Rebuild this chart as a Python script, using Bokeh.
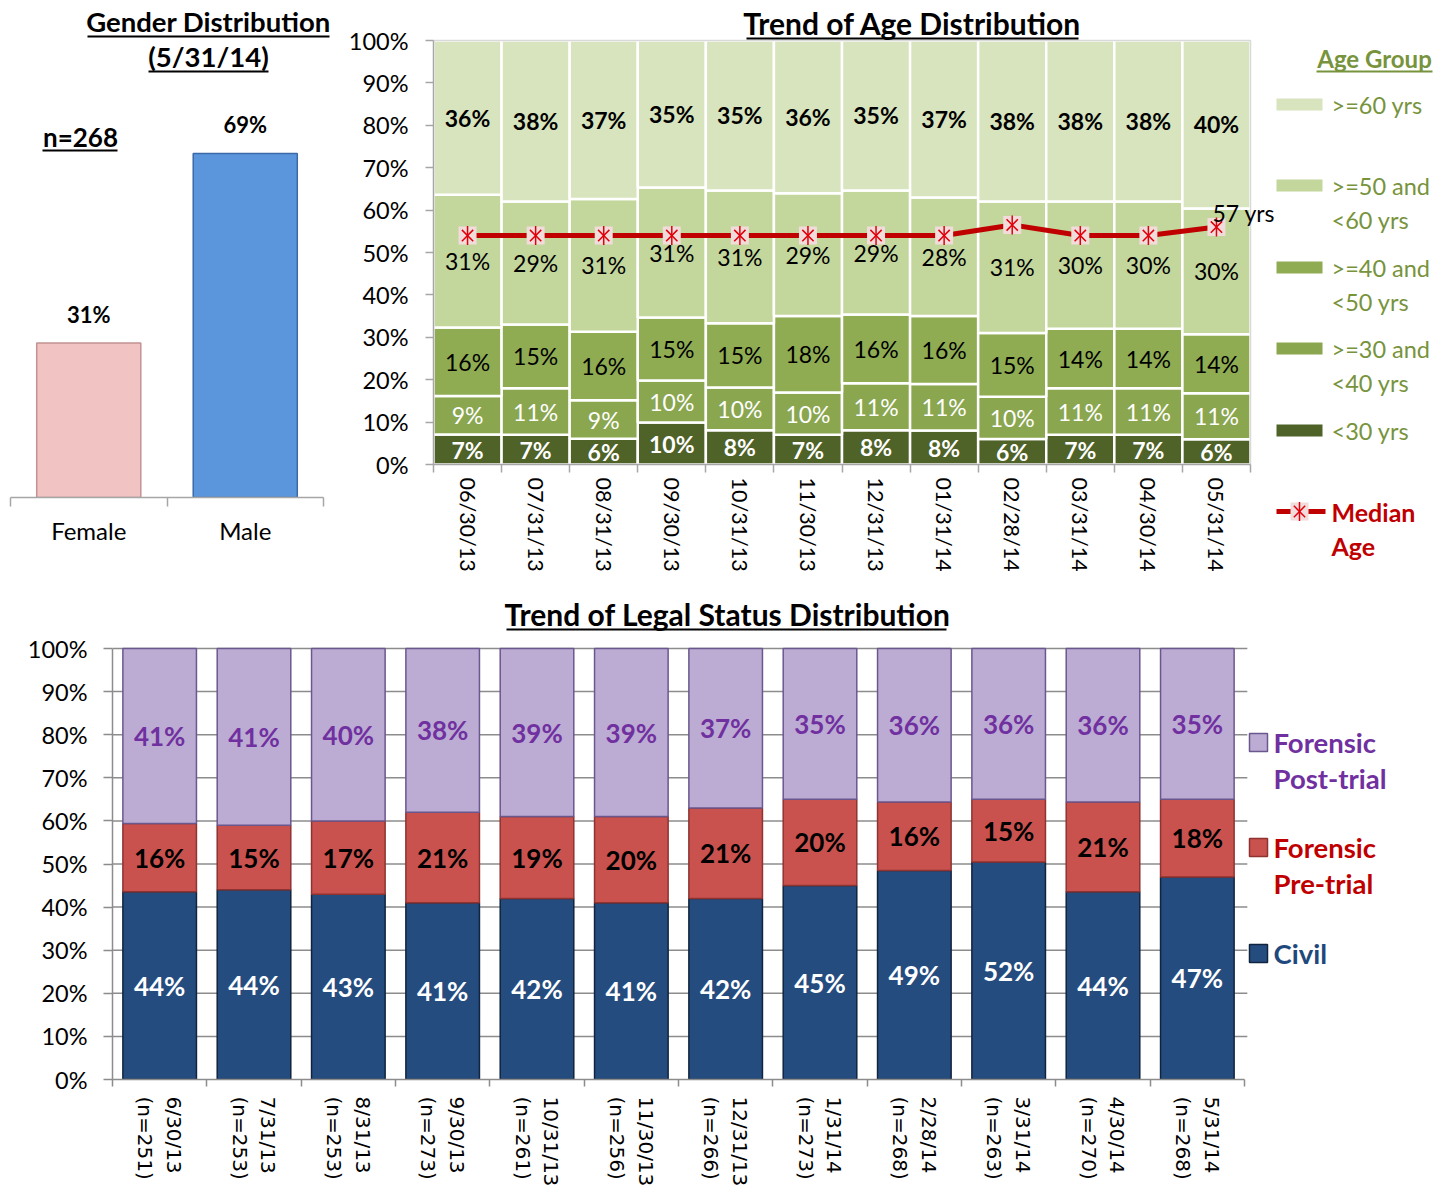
import math
from bokeh.plotting import figure
from bokeh.layouts import column, row
from bokeh.models import Range1d, FixedTicker, Label, Arrow, NumeralTickFormatter
from bokeh.core.properties import value
from bokeh.embed import file_html
from bokeh.resources import INLINE

FONT = "Lato"
XFONT = "DejaVu Sans"

# ---------------- data ----------------
gender_categories = ["Female", "Male"]
gender_pct = [31, 69]
gender_title = ["Gender Distribution", "(5/31/14)"]
gender_n_label = "n=268"

age_dates = ["06/30/13", "07/31/13", "08/31/13", "09/30/13", "10/31/13", "11/30/13",
             "12/31/13", "01/31/14", "02/28/14", "03/31/14", "04/30/14", "05/31/14"]
age_groups = ["<30 yrs", ">=30 and\n<40 yrs", ">=40 and\n<50 yrs", ">=50 and\n<60 yrs", ">=60 yrs"]
age_lt30 = [7, 7, 6, 10, 8, 7, 8, 8, 6, 7, 7, 6]
age_30_40 = [9, 11, 9, 10, 10, 10, 11, 11, 10, 11, 11, 11]
age_40_50 = [16, 15, 16, 15, 15, 18, 16, 16, 15, 14, 14, 14]
age_50_60 = [31, 29, 31, 31, 31, 29, 29, 28, 31, 30, 30, 30]
age_ge60 = [36, 38, 37, 35, 35, 36, 35, 37, 38, 38, 38, 40]
median_age = [54, 54, 54, 54, 54, 54, 54, 54, 56.5, 54, 54, 56]
median_age_label = "57 yrs"
median_legend = "Median\nAge"
age_title = "Trend of Age Distribution"
age_legend_title = "Age Group"

legal_dates = ["6/30/13", "7/31/13", "8/31/13", "9/30/13", "10/31/13", "11/30/13",
               "12/31/13", "1/31/14", "2/28/14", "3/31/14", "4/30/14", "5/31/14"]
legal_n = [251, 253, 253, 273, 261, 256, 266, 273, 268, 263, 270, 268]
legal_groups = ["Civil", "Forensic\nPre-trial", "Forensic\nPost-trial"]
civil = [44, 44, 43, 41, 42, 41, 42, 45, 49, 52, 44, 47]
pre_trial = [16, 15, 17, 21, 19, 20, 21, 20, 16, 15, 21, 18]
post_trial = [41, 41, 40, 38, 39, 39, 37, 35, 36, 36, 36, 35]
legal_title = "Trend of Legal Status Distribution"

pct_ticks = [i / 10 for i in range(11)]

# ---------------- helpers ----------------
def make_fig(W, H, xr, yr, L, R, T, B, x_axis=True, y_axis=True):
    p = figure(width=W, height=H, x_range=Range1d(*xr), y_range=Range1d(*yr),
               output_backend="svg", toolbar_location=None, title=None,
               x_axis_location="below" if x_axis else None,
               y_axis_location="left" if y_axis else None,
               min_border_left=L, min_border_right=R, min_border_top=T, min_border_bottom=B,
               frame_align=False)
    p.xgrid.visible = False
    p.ygrid.visible = False
    p.outline_line_color = None
    return p


def mapper(px0, py0, W, H, L, R, T, B, xr, yr):
    fx0, fx1 = px0 + L, px0 + W - R
    fy0, fy1 = py0 + T, py0 + H - B
    def fx(px):
        return xr[0] + (px - fx0) / (fx1 - fx0) * (xr[1] - xr[0])
    def fy(py):
        return yr[0] + (fy1 - py) / (fy1 - fy0) * (yr[1] - yr[0])
    return fx, fy


def lab(p, x, y, t, size, color="black", bold=False, align="center", baseline="middle", **kw):
    p.add_layout(Label(x=x, y=y, text=t, text_font=FONT, text_font_size=size,
                       text_font_style="bold" if bold else "normal", text_color=color,
                       text_align=align, text_baseline=baseline, **kw))


def uline(p, x0, x1, y, color="black", width=2):
    p.add_layout(Arrow(end=None, start=None, x_start=x0, y_start=y, x_end=x1, y_end=y,
                       line_color=color, line_width=width))


def style_axis(ax, color="#a6a6a6"):
    ax.axis_line_color = color
    ax.axis_line_width = 1.5
    ax.major_tick_line_color = color
    ax.major_tick_line_width = 1.5
    ax.minor_tick_line_color = color
    ax.minor_tick_line_width = 1.5
    ax.major_label_text_font = FONT
    ax.major_label_text_color = "black"


def median_marker(p, x, y, **kw):
    p.scatter(x, y, marker="square", size=18, fill_color="#F2DCDB", line_color=None, **kw)
    p.scatter(x, y, marker="x", size=16, line_color="#E0000B", line_width=1.5, **kw)
    p.scatter(x, y, marker="dash", angle=math.pi / 2, size=19, line_color="#E0000B",
              line_width=1.5, **kw)


# ---------------- gender figure ----------------
A = dict(px0=0, py0=0, W=340, H=585, L=0, R=0, T=0, B=88)
a_xr = (-10 / 156.5, 330 / 156.5)
a_yr = (0, 497 / 4.986)
pa = make_fig(A["W"], A["H"], a_xr, a_yr, A["L"], A["R"], A["T"], A["B"], y_axis=False)
ax_, ay_ = mapper(A["px0"], A["py0"], A["W"], A["H"], A["L"], A["R"], A["T"], A["B"], a_xr, a_yr)

gx = [i + 0.5 for i in range(len(gender_categories))]
pa.vbar(x=gx, top=gender_pct, width=0.665, fill_color=["#F2C3C3", "#5B96DC"],
        line_color=["#C29393", "#3B6AA6"], line_width=1.5)
pa.text(x=gx, y=[v + 5.8 for v in gender_pct], text=[f"{v}%" for v in gender_pct],
        text_font=value(FONT), text_font_size="22px", text_font_style="bold",
        text_align="center", text_baseline="middle", text_color="black")
style_axis(pa.xaxis[0])
pa.xaxis.ticker = FixedTicker(ticks=gx, minor_ticks=list(range(len(gx) + 1)))
pa.xaxis.major_label_overrides = {x: c for x, c in zip(gx, gender_categories)}
pa.xaxis.bounds = (0, len(gx))
pa.xaxis.major_tick_out = 0
pa.xaxis.major_tick_in = 0
pa.xaxis.minor_tick_out = 9
pa.xaxis.minor_tick_in = 0
pa.xaxis.major_label_text_font_size = "24px"
pa.xaxis.major_label_standoff = 9

lab(pa, ax_(208), ay_(21), gender_title[0], "27.5px", bold=True)
uline(pa, ax_(87), ax_(329), ay_(36))
lab(pa, ax_(208), ay_(56), gender_title[1], "27.5px", bold=True)
uline(pa, ax_(148), ax_(268), ay_(71))
lab(pa, ax_(80), ay_(136), gender_n_label, "26px", bold=True)
uline(pa, ax_(42), ax_(117), ay_(150))

# ---------------- age figure ----------------
n_age = len(age_dates)
Bf = dict(px0=340, py0=0, W=936, H=585, L=93, R=0, T=0, B=121)
b_xr = (0, 843 / (817 / n_age))
b_yr = (0, 464 / 424)
pb = make_fig(Bf["W"], Bf["H"], b_xr, b_yr, Bf["L"], Bf["R"], Bf["T"], Bf["B"])
bx, by = mapper(Bf["px0"], Bf["py0"], Bf["W"], Bf["H"], Bf["L"], Bf["R"], Bf["T"], Bf["B"], b_xr, b_yr)

age_series = [age_lt30, age_30_40, age_40_50, age_50_60, age_ge60]
age_colors = ["#4F6228", "#8AA64F", "#8FAC53", "#C3D69B", "#D7E4BD"]
age_label_style = [("white", "bold"), ("white", "normal"), ("black", "normal"),
                   ("black", "normal"), ("black", "bold")]
age_x = [i + 0.5 for i in range(n_age)]
age_tot = [sum(v) for v in zip(*age_series)]
bot = [0.0] * n_age
for k, s in enumerate(age_series):
    top = [b + v / t for b, v, t in zip(bot, s, age_tot)]
    pb.vbar(x=age_x, bottom=bot, top=top, width=1.0, fill_color=age_colors[k],
            line_color="white", line_width=2.5)
    pb.text(x=age_x, y=[(b + t) / 2 for b, t in zip(bot, top)], text=[f"{v}%" for v in s],
            text_font=value(FONT), text_font_size="23px", text_font_style=age_label_style[k][1],
            text_color=age_label_style[k][0], text_align="center", text_baseline="middle")
    bot = top

# plot-area border (top and right)
pb.line([0, n_age, n_age], [1, 1, 0], line_color="#d9d9d9", line_width=1.5)

pb.extra_y_ranges = {"age": Range1d(0, 100 * b_yr[1])}
pb.line(age_x, median_age, y_range_name="age", line_color="#C00000", line_width=5)
median_marker(pb, age_x, median_age, y_range_name="age")
pb.text(x=[age_x[-1] - 4 / (817 / n_age)], y=[median_age[-1] + 14 / 424 * 100], text=[median_age_label],
        y_range_name="age", text_font=value(FONT), text_font_size="23px",
        text_align="left", text_baseline="middle", text_color="black")

style_axis(pb.yaxis[0])
pb.yaxis.ticker = FixedTicker(ticks=pct_ticks)
pb.yaxis.formatter = NumeralTickFormatter(format="0%")
pb.yaxis.bounds = (0, 1)
pb.yaxis.major_tick_out = 8
pb.yaxis.major_tick_in = 0
pb.yaxis.major_label_text_font_size = "23.5px"
pb.yaxis.major_label_standoff = 17

style_axis(pb.xaxis[0])
pb.xaxis.ticker = FixedTicker(ticks=age_x, minor_ticks=list(range(n_age + 1)))
pb.xaxis.major_label_overrides = {x: d for x, d in zip(age_x, age_dates)}
pb.xaxis.major_label_orientation = -math.pi / 2
pb.xaxis.bounds = (0, n_age)
pb.xaxis.major_tick_out = 0
pb.xaxis.major_tick_in = 0
pb.xaxis.minor_tick_out = 8
pb.xaxis.minor_tick_in = 0
pb.xaxis.major_label_text_font_size = "21.5px"
pb.xaxis.major_label_standoff = 5

lab(pb, bx(912), by(22), age_title, "30px", bold=True)
uline(pb, bx(746), bx(1078), by(38))

# ---------------- age legend figure (page pixel coordinates) ----------------
Lf = dict(px0=1276, W=164, H=585)
pl = make_fig(Lf["W"], Lf["H"], (Lf["px0"], Lf["px0"] + Lf["W"]), (Lf["H"], 0), 0, 0, 0, 0,
              x_axis=False, y_axis=False)
LEG_GREEN = "#77933C"
lab(pl, 1374, 58, age_legend_title, "24px", color=LEG_GREEN, bold=True)
uline(pl, 1316, 1432, 71, color=LEG_GREEN)
leg_y = [104, 185, 267, 348, 430]
for yy, k in zip(leg_y, reversed(range(len(age_series)))):
    pl.quad(left=[1275], right=[1322], top=[yy - 6], bottom=[yy + 6],
            fill_color=age_colors[k], line_color=None)
    for j, line in enumerate(age_groups[k].split("\n")):
        lab(pl, 1331, yy + 34 * j, line, "23.5px", color=LEG_GREEN, align="left")
my = 511
pl.line([1272, 1325], [my, my], line_color="#C00000", line_width=5)
median_marker(pl, [1299], [my])
for j, line in enumerate(median_legend.split("\n")):
    lab(pl, 1331, my + 34 * j, line, "25px", color="#C00000", bold=True, align="left")

# ---------------- legal status figure ----------------
n_leg = len(legal_dates)
pitch_c = 1132 / n_leg
Cf = dict(px0=0, py0=585, W=1440, H=605, L=112, R=0, T=0, B=111)
c_xr = (0, 1328 / pitch_c)
c_yr = (0, 494 / 431)
pc = make_fig(Cf["W"], Cf["H"], c_xr, c_yr, Cf["L"], Cf["R"], Cf["T"], Cf["B"])
cx, cy = mapper(Cf["px0"], Cf["py0"], Cf["W"], Cf["H"], Cf["L"], Cf["R"], Cf["T"], Cf["B"], c_xr, c_yr)

GRID = "#8C8C8C"
grid_y = pct_ticks[1:]
pc.segment(x0=[0] * len(grid_y), y0=grid_y, x1=[n_leg + 0.03] * len(grid_y), y1=grid_y,
           line_color=GRID, line_width=1.5)

legal_series = [civil, pre_trial, post_trial]
legal_fill = ["#254C7F", "#C9524F", "#BCACD3"]
legal_line = ["#10243F", "#8E3330", "#6A578E"]
legal_text_color = ["white", "black", "#7030A0"]
legal_legend_color = ["#1F497D", "#C00000", "#7030A0"]
lx = [i + 0.5 for i in range(n_leg)]
l_tot = [sum(v) for v in zip(*legal_series)]
bot = [0.0] * n_leg
for k, s in enumerate(legal_series):
    top = [b + v / t for b, v, t in zip(bot, s, l_tot)]
    pc.vbar(x=lx, bottom=bot, top=top, width=0.78, fill_color=legal_fill[k],
            line_color=legal_line[k], line_width=1.5)
    pc.text(x=lx, y=[(b + t) / 2 for b, t in zip(bot, top)], text=[f"{v}%" for v in s],
            text_font=value(FONT), text_font_size="26px", text_font_style="bold",
            text_color=legal_text_color[k], text_align="center", text_baseline="middle")
    bot = top

style_axis(pc.yaxis[0], GRID)
pc.yaxis.ticker = FixedTicker(ticks=pct_ticks)
pc.yaxis.formatter = NumeralTickFormatter(format="0%")
pc.yaxis.bounds = (0, 1)
pc.yaxis.major_tick_out = 9
pc.yaxis.major_tick_in = 0
pc.yaxis.major_label_text_font_size = "23.5px"
pc.yaxis.major_label_standoff = 16

style_axis(pc.xaxis[0], GRID)
pc.xaxis.ticker = FixedTicker(ticks=lx, minor_ticks=list(range(n_leg + 1)))
pc.xaxis.major_label_overrides = {x: f"{d}\n(n={n})" for x, d, n in zip(lx, legal_dates, legal_n)}
pc.xaxis.major_label_orientation = -math.pi / 2
pc.xaxis.bounds = (0, n_leg)
pc.xaxis.major_tick_out = 0
pc.xaxis.major_tick_in = 0
pc.xaxis.minor_tick_out = 7
pc.xaxis.minor_tick_in = 0
pc.xaxis.major_label_text_font = XFONT
pc.xaxis.major_label_text_font_size = "20px"
pc.xaxis.major_label_standoff = 10

lab(pc, cx(727), cy(613), legal_title, "30px", bold=True)
uline(pc, cx(506), cx(946), cy(629))

leg_c_y = [953, 847, 742]
for k, yy in enumerate(leg_c_y):
    pc.quad(left=[cx(1249)], right=[cx(1267)], top=[cy(yy - 9)], bottom=[cy(yy + 9)],
            fill_color=legal_fill[k], line_color=legal_line[k], line_width=1.5)
    for j, line in enumerate(legal_groups[k].split("\n")):
        lab(pc, cx(1273), cy(yy + 36 * j), line, "27.5px", color=legal_legend_color[k],
            bold=True, align="left")

layout = column(row(pa, pb, pl), pc)
open("out.html", "w").write(file_html(layout, INLINE, title="Charts"))
